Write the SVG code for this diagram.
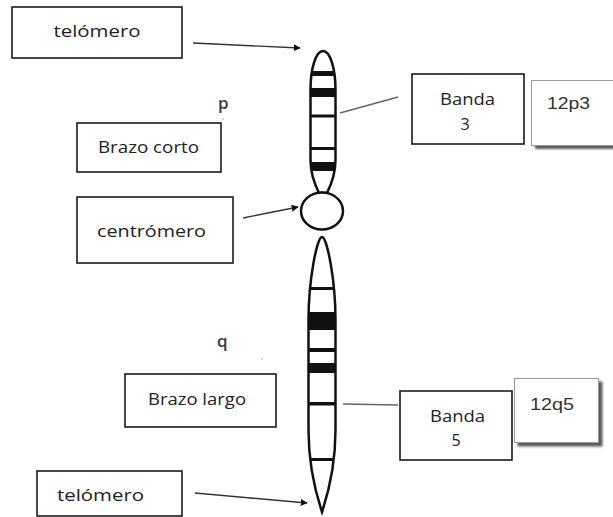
<svg xmlns="http://www.w3.org/2000/svg" width="613" height="517" viewBox="0 0 613 517">
  <style>
    .box { fill: #fff; stroke: #1a1a1a; stroke-width: 1.6; }
    .note { fill: #fff; stroke: #9a9a9a; stroke-width: 1; }
    .shadow { fill: #5a5a5a; filter: url(#soft); }
    .lbl { font-family: "Open Sans", "Noto Sans", "DejaVu Sans", sans-serif; font-size: 16px; fill: #222; }
    .code { font-family: "Liberation Sans", Arial, sans-serif; font-size: 16px; fill: #333; }
    .arm { fill: #fff; stroke: #111; stroke-width: 2.5; }
    .band { fill: #111; }
    .arrow { stroke: #333; stroke-width: 1.4; fill: none; marker-end: url(#head); }
    .lead { stroke: #666; stroke-width: 1.6; fill: none; }
    .letter { font-family: "Open Sans", "DejaVu Sans", sans-serif; font-size: 17px; font-weight: 600; fill: #3a3a3a; }
  </style>
  <defs>
    <marker id="head" viewBox="0 0 10 10" refX="9" refY="5" markerWidth="7" markerHeight="7" markerUnits="userSpaceOnUse" orient="auto">
      <path d="M0,0 L10,5 L0,10 Z" fill="#111"/>
    </marker>
    <filter id="soft" x="-10%" y="-10%" width="130%" height="130%">
      <feGaussianBlur stdDeviation="0.8"/>
    </filter>
    <clipPath id="upperClip">
      <path d="M323,51 C330,51 335.5,68 335.5,90 L335.5,160 C335.5,175 330,187 327,193 L319,193 C316,187 310.5,175 310.5,160 L310.5,90 C310.5,68 316,51 323,51 Z"/>
    </clipPath>
    <clipPath id="lowerClip">
      <path d="M322,237 C327,237 335.5,280 335.5,320 L335.5,430 C335.5,470 326,500 322,512 C318,500 308.5,470 308.5,430 L308.5,320 C308.5,280 317,237 322,237 Z"/>
    </clipPath>
  </defs>

  <rect width="613" height="517" fill="#fff"/>

  <!-- chromosome 12 -->
  <g id="chromosome">
    <g id="p-arm">
      <path class="arm" d="M323,51 C330,51 335.5,68 335.5,90 L335.5,160 C335.5,175 330,187 327,193 L319,193 C316,187 310.5,175 310.5,160 L310.5,90 C310.5,68 316,51 323,51 Z"/>
      <g clip-path="url(#upperClip)">
        <rect class="band" x="305" y="71" width="36" height="5"/>
        <rect class="band" x="305" y="88" width="36" height="9"/>
        <rect class="band" x="305" y="114.5" width="36" height="3"/>
        <rect class="band" x="305" y="147" width="36" height="3"/>
        <rect class="band" x="305" y="162" width="36" height="9"/>
      </g>
    </g>
    <g id="q-arm">
      <path class="arm" d="M322,237 C327,237 335.5,280 335.5,320 L335.5,430 C335.5,470 326,500 322,512 C318,500 308.5,470 308.5,430 L308.5,320 C308.5,280 317,237 322,237 Z"/>
      <g clip-path="url(#lowerClip)">
        <rect class="band" x="303" y="287" width="38" height="3"/>
        <rect class="band" x="303" y="312" width="38" height="18"/>
        <rect class="band" x="303" y="348" width="38" height="4"/>
        <rect class="band" x="303" y="363" width="38" height="10"/>
        <rect class="band" x="303" y="402" width="38" height="3.5"/>
        <rect class="band" x="303" y="458" width="38" height="3"/>
      </g>
    </g>
    <ellipse id="centromere-ring" cx="322" cy="211" rx="21" ry="18.5" fill="#fff" stroke="#111" stroke-width="2.5"/>
  </g>

  <!-- connectors -->
  <g id="connectors">
    <line class="arrow" x1="193" y1="43" x2="300" y2="48"/>
    <line class="arrow" x1="243" y1="218" x2="298" y2="207"/>
    <line class="arrow" x1="195" y1="493" x2="307" y2="503"/>
    <line class="lead" x1="340" y1="113" x2="398" y2="97"/>
    <line class="lead" x1="343" y1="404" x2="398" y2="405"/>
  </g>

  <!-- arm letters -->
  <g id="arm-letters">
    <text class="letter" x="218" y="109">p</text>
    <circle cx="223" cy="119" r="0.8" fill="#999"/>
    <text class="letter" x="217" y="347">q</text>
    <circle cx="262" cy="359" r="0.8" fill="#999"/>
  </g>

  <g id="telomere-top">
    <rect class="box" x="12" y="7" width="170" height="51"/>
    <text class="lbl" x="97" y="37" text-anchor="middle" textLength="87" lengthAdjust="spacingAndGlyphs">telómero</text>
  </g>

  <g id="short-arm">
    <rect class="box" x="77" y="123" width="144" height="49"/>
    <text class="lbl" x="148.5" y="153" text-anchor="middle" textLength="101" lengthAdjust="spacingAndGlyphs">Brazo corto</text>
  </g>

  <g id="centromere">
    <rect class="box" x="77" y="197" width="156" height="66"/>
    <text class="lbl" x="151.5" y="237" text-anchor="middle" textLength="109" lengthAdjust="spacingAndGlyphs">centrómero</text>
  </g>

  <g id="long-arm">
    <rect class="box" x="125" y="374" width="151" height="53"/>
    <text class="lbl" x="197" y="405" text-anchor="middle" textLength="98" lengthAdjust="spacingAndGlyphs">Brazo largo</text>
  </g>

  <g id="telomere-bottom">
    <rect class="box" x="37" y="471" width="145" height="45"/>
    <text class="lbl" x="57" y="501" textLength="87" lengthAdjust="spacingAndGlyphs">telómero</text>
  </g>

  <g id="band-3">
    <rect class="box" x="412" y="74" width="112" height="70"/>
    <text class="lbl" x="467.5" y="105" text-anchor="middle" textLength="55" lengthAdjust="spacingAndGlyphs">Banda</text>
    <text class="lbl" x="465" y="130" text-anchor="middle">3</text>
  </g>

  <g id="code-12p3">
    <rect class="shadow" x="535" y="83" width="90" height="66"/>
    <rect class="note" x="531.5" y="80.5" width="90" height="65"/>
    <text class="code" x="547" y="109" textLength="43" lengthAdjust="spacingAndGlyphs">12p3</text>
  </g>

  <g id="band-5">
    <rect class="box" x="400" y="391" width="112" height="69"/>
    <text class="lbl" x="457.5" y="422" text-anchor="middle" textLength="55" lengthAdjust="spacingAndGlyphs">Banda</text>
    <text class="lbl" x="456" y="446" text-anchor="middle">5</text>
  </g>

  <g id="code-12q5">
    <rect class="shadow" x="517.5" y="381.5" width="85" height="65"/>
    <rect class="note" x="514.5" y="378.5" width="84" height="64"/>
    <text class="code" x="530" y="410" textLength="44" lengthAdjust="spacingAndGlyphs">12q5</text>
  </g>
</svg>
